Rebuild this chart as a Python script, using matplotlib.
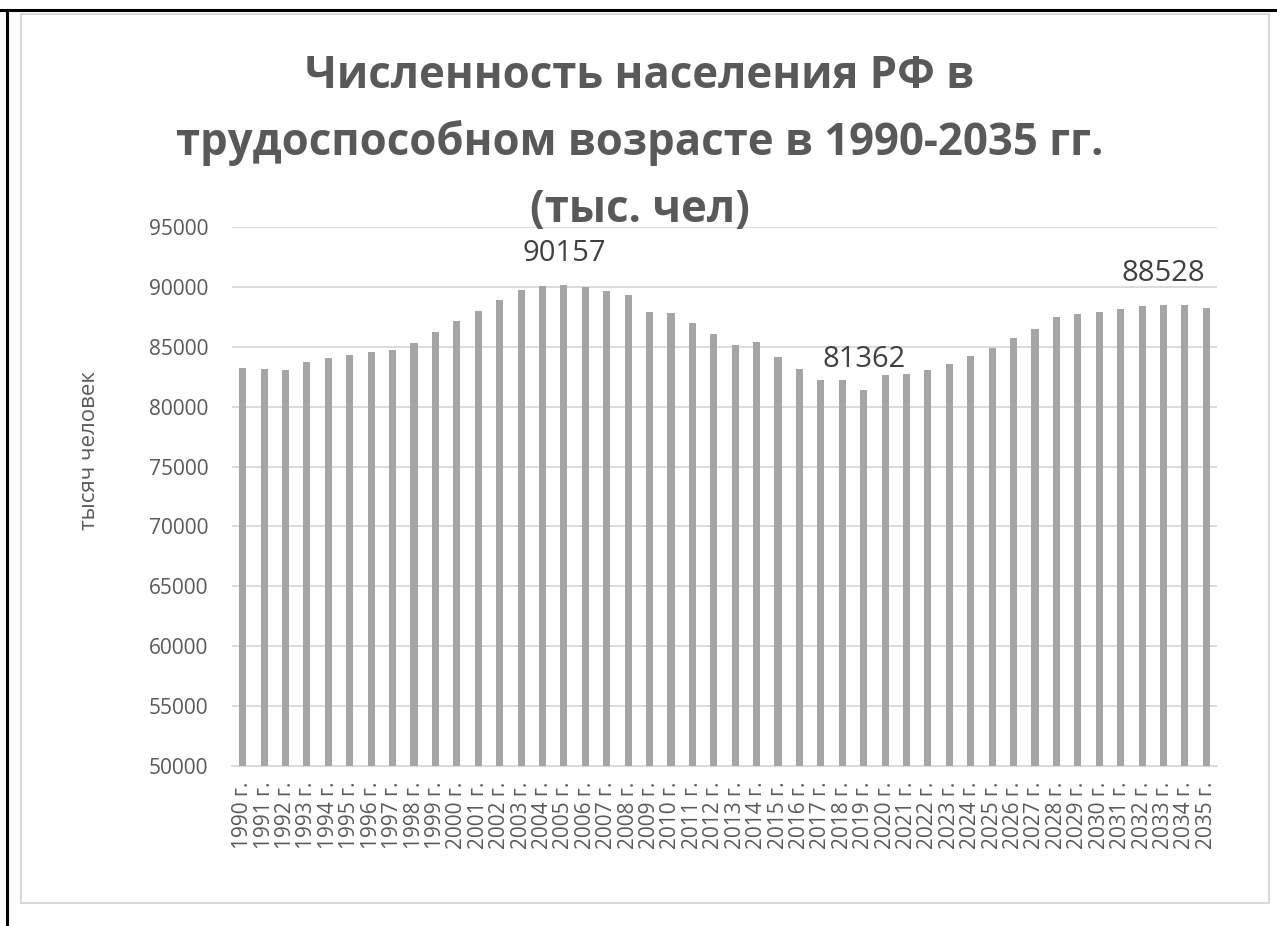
import matplotlib
matplotlib.use("Agg")
import matplotlib.pyplot as plt
from matplotlib import font_manager
from matplotlib.lines import Line2D
from matplotlib.patches import Rectangle

years = [f"{y} г." for y in range(1990, 2036)]
values = [83250, 83170, 83050, 83750, 84030, 84310, 84530, 84750, 85330, 86220,
          87140, 88000, 88890, 89780, 90080, 90157, 90000, 89670, 89300, 87940,
          87780, 87000, 86080, 85140, 85360, 84170, 83170, 82250, 82250, 81362,
          82640, 82750, 83080, 83580, 84250, 84920, 85750, 86500, 87500, 87750,
          87920, 88170, 88420, 88528, 88500, 88250]
labeled = ["2005 г.", "2019 г.", "2033 г."]
title_lines = ["Численность населения РФ в",
               "трудоспособном возрасте в 1990-2035 гг.",
               "(тыс. чел)"]
ylabel = "тысяч человек"
yticks = list(range(50000, 95001, 5000))

names = {f.name for f in font_manager.fontManager.ttflist}
base = "Open Sans" if "Open Sans" in names else "DejaVu Sans"

W, H = 1277, 926
fig = plt.figure(figsize=(W / 100, H / 100), dpi=100)
fig.patch.set_facecolor("white")

ax = fig.add_axes([232 / W, 1 - 766 / H, (1217 - 232) / W, (766 - 227) / H])
x = list(range(len(years)))
ax.bar(x, values, width=0.33, color="#A5A5A5", zorder=3)
ax.set_xlim(-0.5, len(years) - 0.5)
ax.set_ylim(50000, 95000)
ax.set_yticks(yticks)
ax.set_yticklabels([str(v) for v in yticks], fontsize=15, color="#595959", family=base)
ax.set_xticks(x)
ax.set_xticklabels(years, rotation=90, fontsize=15, color="#595959", family=base)
ax.tick_params(axis="both", length=0)
ax.tick_params(axis="y", pad=17)
ax.tick_params(axis="x", pad=11)
ax.grid(axis="y", color="#D9D9D9", linewidth=1.3, zorder=0)
for s in ["top", "left", "right"]:
    ax.spines[s].set_visible(False)
ax.spines["bottom"].set_color("#D9D9D9")
ax.spines["bottom"].set_linewidth(1.3)
ax.set_ylabel(ylabel, fontsize=16, color="#595959", family=base)
ax.yaxis.set_label_coords(-0.134, 0.586)

for lab in labeled:
    i = years.index(lab)
    ax.annotate(str(values[i]), (i, values[i]), xytext=(0, 12), textcoords="offset points",
                ha="center", va="bottom", fontsize=21, color="#404040", family=base)

baselines = [88, 155, 222]
for line, yb in zip(title_lines, baselines):
    fig.text(640 / W, 1 - yb / H, line, ha="center", va="baseline", fontsize=31.5,
             fontweight="bold", color="#595959", family=base)

# frame
fig.add_artist(Rectangle((21 / W, 1 - 903 / H), (1269 - 21) / W, (903 - 14) / H,
                         transform=fig.transFigure, fill=False, edgecolor="#D9D9D9", linewidth=1.5))
fig.add_artist(Line2D([0, 1], [1 - 9.5 / H, 1 - 9.5 / H], transform=fig.transFigure, color="black", linewidth=2.2))
fig.add_artist(Line2D([6.5 / W, 6.5 / W], [0, 1 - 9.5 / H], transform=fig.transFigure, color="black", linewidth=2.2))

fig.savefig("out.png", dpi=100)
